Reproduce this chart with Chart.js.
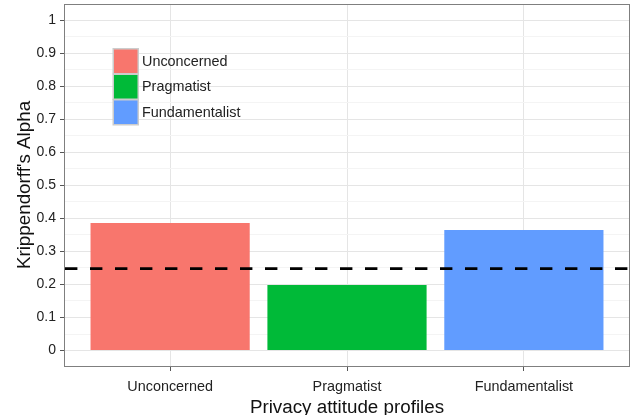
<!DOCTYPE html>
<html>
<head>
<meta charset="utf-8">
<script src="https://cdn.jsdelivr.net/npm/chart.js@4.4.1/dist/chart.umd.min.js"></script>
<style>
  html, body { margin: 0; padding: 0; background: #ffffff; }
  #wrap { width: 631px; height: 415px; }
</style>
</head>
<body>
<div id="wrap"><canvas id="c" width="631" height="415"></canvas></div>
<script>
// ---- data ----
const categories = ["Unconcerned", "Pragmatist", "Fundamentalist"];
const alphaValues = [0.386, 0.198, 0.365];
const barColors = ["#F8766D", "#00BA38", "#619CFF"];
const referenceLine = 0.248;
const yMajorTicks = [0, 0.1, 0.2, 0.3, 0.4, 0.5, 0.6, 0.7, 0.8, 0.9, 1];
const yMinorTicks = [0.05, 0.15, 0.25, 0.35, 0.45, 0.55, 0.65, 0.75, 0.85, 0.95];
const yTickLabels = ["0", "0.1", "0.2", "0.3", "0.4", "0.5", "0.6", "0.7", "0.8", "0.9", "1"];
const xTitle = "Privacy attitude profiles";
const yTitle = "Krippendorff's Alpha";

const FONT = "'Liberation Sans', Arial, Helvetica, sans-serif";
const MAJOR = "#E5E5E5", MINOR = "#F4F4F4", BORDER = "#7F7F7F", TEXT = "#222222";

const isMajor = v => yMajorTicks.some(m => Math.abs(m - v) < 1e-9);

const barData = categories.map((c, i) => ({ x: i + 1, y: alphaValues[i] }));

const panelPlugin = {
  id: 'panel',
  afterDatasetsDraw(chart) {
    const { ctx, chartArea: a, scales } = chart;
    const y = scales.y.getPixelForValue(referenceLine);
    ctx.save();
    ctx.strokeStyle = "#000000";
    ctx.lineWidth = 2.8;
    ctx.setLineDash([12.4, 12.6]);
    ctx.beginPath();
    ctx.moveTo(a.left + 1, y);
    ctx.lineTo(a.right, y);
    ctx.stroke();
    ctx.restore();
  },
  afterDraw(chart) {
    const { ctx, chartArea: a } = chart;
    ctx.save();
    ctx.strokeStyle = BORDER;
    ctx.lineWidth = 1;
    ctx.strokeRect(a.left + 0.5, a.top + 0.5, a.right - a.left - 1, a.bottom - a.top);
    const kx = 113, ky = 48.5, kw = 25.5, kh = 25.5;
    ctx.font = "14.4px " + FONT;
    ctx.textBaseline = "middle";
    ctx.textAlign = "left";
    categories.forEach((c, i) => {
      const top = ky + i * kh;
      ctx.fillStyle = "#CCCCCC";
      ctx.fillRect(kx - 0.5, top - 0.5, kw + 1, kh + 1);
      ctx.fillStyle = barColors[i];
      ctx.fillRect(kx + 1, top + 1, kw - 2, kh - 2);
      ctx.fillStyle = TEXT;
      ctx.fillText(c, kx + kw + 3.5, top + kh / 2 + 0.5);
    });
    ctx.restore();
  }
};

const bgPlugin = {
  id: 'bg',
  beforeDraw(chart) {
    const { ctx, width, height } = chart;
    ctx.save();
    ctx.fillStyle = "#ffffff";
    ctx.fillRect(0, 0, width, height);
    ctx.restore();
  }
};

function zeroPad(scale) {
  scale.paddingTop = 0; scale.paddingBottom = 0;
  scale.paddingLeft = 0; scale.paddingRight = 0;
}

new Chart(document.getElementById('c'), {
  type: 'bar',
  data: {
    datasets: [{
      data: barData,
      backgroundColor: barColors,
      borderWidth: 0,
      barPercentage: 0.9,
      categoryPercentage: 1.0
    }]
  },
  options: {
    responsive: false,
    animation: false,
    devicePixelRatio: 1,
    layout: { padding: { left: 0, right: 1, top: 4, bottom: 0 } },
    plugins: { legend: { display: false }, tooltip: { enabled: false } },
    scales: {
      x: {
        type: 'linear',
        min: 0.4,
        max: 3.6,
        offset: false,
        afterBuildTicks(scale) { scale.ticks = categories.map((c, i) => ({ value: i + 1 })); },
        afterFit(scale) { scale.height = 49; zeroPad(scale); },
        ticks: {
          callback: (v) => categories[Math.round(v) - 1] || "",
          color: TEXT,
          font: { family: FONT, size: 14.4 },
          padding: 7,
          maxRotation: 0,
          autoSkip: false
        },
        grid: { offset: false, color: MAJOR, lineWidth: 1, tickLength: 5, tickColor: "#555555", drawTicks: true },
        border: { display: false },
        title: {
          display: true,
          text: xTitle,
          color: "#111111",
          font: { family: FONT, size: 18.8, lineHeight: 1 },
          padding: { top: 0, bottom: -2.5 }
        }
      },
      y: {
        type: 'linear',
        min: -0.0467,
        max: 1.0485,
        afterBuildTicks(scale) {
          scale.ticks = yMajorTicks.concat(yMinorTicks).sort((a, b) => a - b).map(v => ({ value: v }));
        },
        afterFit(scale) { scale.width = 64; zeroPad(scale); },
        ticks: {
          callback: (v) => {
            const idx = yMajorTicks.findIndex(m => Math.abs(m - v) < 1e-9);
            return idx >= 0 ? yTickLabels[idx] : "";
          },
          color: TEXT,
          font: { family: FONT, size: 14 },
          padding: 4,
          autoSkip: false
        },
        grid: {
          color: (ctx) => (ctx.tick && isMajor(ctx.tick.value)) ? MAJOR : MINOR,
          tickColor: (ctx) => (ctx.tick && isMajor(ctx.tick.value)) ? "#555555" : "rgba(0,0,0,0)",
          lineWidth: 1,
          tickLength: 4
        },
        border: { display: false },
        title: {
          display: true,
          text: yTitle,
          color: "#111111",
          font: { family: FONT, size: 18.8, lineHeight: 1 },
          padding: { top: 15, bottom: 0 }
        }
      }
    }
  },
  plugins: [bgPlugin, panelPlugin]
});
</script>
</body>
</html>
